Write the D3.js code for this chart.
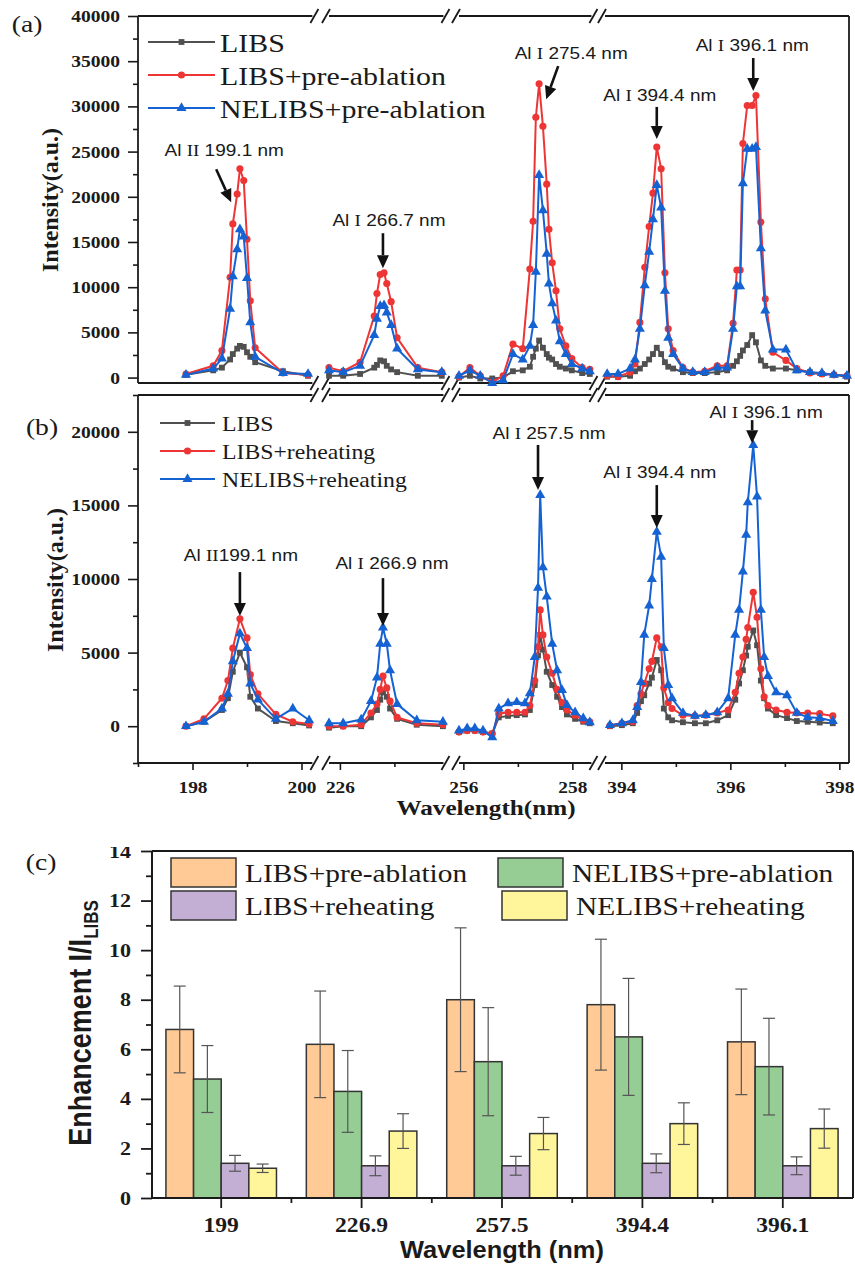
<!DOCTYPE html>
<html lang="en">
<head>
<meta charset="UTF-8">
<title>Al emission spectra and signal enhancement</title>
<script src="https://d3js.org/d3.v7.min.js"></script>
<style>
  body { margin: 0; background: #fff; }
  svg { display: block; }
</style>
</head>
<body>
<svg id="fig" width="855" height="1266"></svg>
<script>
// ---------- data ----------
// wavelength windows of the broken x axis (nm)
const segDomains = [[197.0, 200.2], [225.8, 227.9], [255.92, 258.35], [393.7, 398.17]];
const xMajor = [[198, 200], [226], [256, 258], [394, 396, 398]];
const xMinor = [[197, 199], [227], [257], [395, 397]];

// panel (a): pre-ablation
const a1Wl   = [197.88,198.38,198.54,198.69,198.74,198.82,198.87,198.94,199.0,199.06,199.15,199.66,200.12];
const a1Libs = [300,800,1100,2000,2600,3200,3500,3400,2800,2300,1700,700,200];
const a1Pre  = [400,1300,3000,11100,17000,20300,23100,21800,15300,8500,3300,500,300];
const a1Ne   = [300,1000,2100,7600,11200,14200,16400,15600,11000,6100,2300,500,400];

const a2Wl   = [225.8,226.06,226.37,226.63,226.68,226.74,226.81,226.86,226.94,227.05,227.43,227.87];
const a2Libs = [200,200,400,1100,1400,1900,1800,1300,900,600,200,200];
const a2Pre  = [1100,700,1700,6800,9300,11400,11600,10400,8400,4400,1100,600];
const a2Ne   = [800,600,1300,4700,6500,7900,8000,7200,5800,3200,900,600];

const a3Wl   = [255.92,256.12,256.31,256.53,256.73,256.91,257.09,257.22,257.28,257.33,257.39,257.46,257.53,257.57,257.63,257.7,257.77,257.88,257.99,258.18,258.32];
const a3Libs = [0,200,-100,-100,0,700,800,1200,2300,3200,4100,3300,2600,2200,2000,1500,1200,1000,800,500,400];
const a3Pre  = [100,1100,200,-500,200,3700,3200,12000,17300,28800,32500,27800,21400,16400,12700,9600,5400,3500,2100,1100,900];
const a3Ne   = [200,800,200,-600,-300,2600,2000,3500,5800,11700,22400,18500,13700,10400,8200,6300,4000,2600,1500,1000,700];

const a4Wl   = [393.74,393.94,394.16,394.25,394.34,394.43,394.51,394.58,394.65,394.73,394.80,394.86,394.95,395.13,395.31,395.53,395.76,395.94,396.05,396.12,396.18,396.23,396.31,396.40,396.47,396.56,396.64,396.78,397.02,397.22,397.46,397.68,397.90,398.14];
const a4Libs = [100,100,200,700,1000,1500,2000,2600,3300,2600,1700,1200,1000,600,500,500,600,800,1300,1800,2400,3000,3600,4700,3900,1900,1300,1000,1000,800,600,400,300,100];
const a4Pre  = [200,100,600,1500,6100,12200,16700,20400,25500,23100,11600,5400,3000,1100,600,700,1300,1300,6000,11900,11900,25900,30100,30100,31200,17200,8700,2800,1900,1000,500,400,300,200];
const a4Ne   = [400,400,1000,2000,5400,10200,13900,17500,21300,18800,9600,4400,2600,1000,600,600,1100,1100,5400,10100,10100,21500,25300,25300,25500,14300,7400,3100,3100,800,600,500,300,200];

// panel (b): reheating
const b1Wl   = [197.88,198.21,198.54,198.65,198.74,198.87,199.0,199.06,199.2,199.53,199.84,200.14];
const b1Libs = [0,300,1100,1900,3700,5000,4000,2000,1200,350,200,50];
const b1Re   = [0,500,1900,3100,5300,7300,6000,3500,2200,800,300,150];
const b1Ne   = [0,300,1200,2200,4400,6300,5300,2900,1800,500,1200,400];

const b2Wl   = [225.8,226.06,226.39,226.57,226.68,226.74,226.79,226.86,226.92,227.05,227.41,227.89];
const b2Libs = [-100,0,0,600,1100,1800,2300,2000,1200,500,100,0];
const b2Re   = [0,0,100,900,1500,2500,3400,2600,1700,600,200,100];
const b2Ne   = [200,200,450,1700,3300,5600,6700,5600,3800,1500,400,300];

const b3Wl   = [255.92,256.07,256.21,256.36,256.53,256.65,256.82,256.98,257.13,257.22,257.31,257.37,257.41,257.46,257.53,257.63,257.72,257.81,257.9,258.05,258.2,258.32];
const b3Libs = [-400,-300,-300,-400,-500,600,700,750,800,1100,2800,4800,6200,5200,3700,2800,2000,1300,800,500,300,200];
const b3Re   = [-400,-300,-300,-400,-500,850,950,950,950,1400,3100,5400,7900,6200,4700,3600,2500,1600,1100,750,400,300];
const b3Ne   = [-300,-150,-150,-300,-750,1200,1560,1630,1560,2240,4700,9400,15700,10800,8800,5600,3800,2450,1430,950,540,270];

const b4Wl   = [393.79,394.01,394.21,394.29,394.36,394.42,394.51,394.56,394.65,394.73,394.78,394.86,394.93,395.13,395.35,395.55,395.76,395.96,396.09,396.16,396.23,396.29,396.32,396.42,396.49,396.56,396.62,396.69,396.84,397.04,397.22,397.42,397.64,397.88];
const b4Libs = [0,70,200,900,1700,2100,2900,3300,4500,3800,1200,600,400,270,200,200,400,750,1800,2900,3800,4800,5400,6500,5500,3100,1900,1200,750,550,350,300,250,200];
const b4Re   = [50,200,300,1400,2200,2900,3900,4400,6000,5400,2600,1600,1200,750,700,750,900,1100,2300,3600,4700,5900,6700,9100,7400,3900,2000,1400,1100,950,900,900,850,700];
const b4Ne   = [70,200,400,1300,3000,6200,8200,10000,13200,11500,5300,2800,1900,900,700,750,950,1900,6200,7900,10500,13000,15200,19100,15600,7900,4700,3400,2300,2100,900,600,550,350];

const aYTicks = [0,5000,10000,15000,20000,25000,30000,35000,40000];
const aYMinor = [2500,7500,12500,17500,22500,27500,32500,37500];
const bYTicks = [0,5000,10000,15000,20000];
const bYMinor = [-2500,2500,7500,12500,17500,22500];

// annotation anchors: label, wavelength and intensity of the arrow tip
const aNotes = [
  ["Al ", "II", " 199.1 nm", 198.71, 19400],
  ["Al ", "I", " 266.7 nm", 226.79, 12100],
  ["Al ", "I", " 275.4 nm", 257.52, 30800],
  ["Al ", "I", " 394.4 nm", 394.65, 26400],
  ["Al ", "I", " 396.1 nm", 396.42, 31700]
];
const bNotes = [
  ["Al ", "II", "199.1 nm", 198.87, 7480],
  ["Al ", "I", " 266.9 nm", 226.79, 6800],
  ["Al ", "I", " 257.5 nm", 257.37, 16050],
  ["Al ", "I", " 394.4 nm", 394.65, 13460],
  ["Al ", "I", " 396.1 nm", 396.40, 19230]
];

// panel (c): enhancement factors
const cCats = ["199", "226.9", "257.5", "394.4", "396.1"];
const cLibsPre   = [6.8, 6.2, 8.0, 7.8, 6.3];
const cLibsPreE  = [1.75, 2.15, 2.9, 2.64, 2.13];
const cNePre     = [4.8, 4.3, 5.5, 6.5, 5.3];
const cNePreE    = [1.35, 1.65, 2.18, 2.36, 1.95];
const cLibsRe    = [1.4, 1.3, 1.3, 1.4, 1.3];
const cLibsReE   = [0.32, 0.4, 0.38, 0.38, 0.36];
const cNeRe      = [1.2, 2.7, 2.6, 3.0, 2.8];
const cNeReE     = [0.17, 0.7, 0.65, 0.84, 0.79];
const cYTicks = [0,2,4,6,8,10,12,14];
const cYMinor = [1,3,5,7,9,11,13];

// ---------- drawing ----------
const SERIF = "'Liberation Serif','Times New Roman',serif";
const SANS = "'Liberation Sans',Arial,sans-serif";
const INK = "#1a1a1a";
const svg = d3.select("#fig");

function txt(g, x, y, s, o) {
  return g.append("text")
    .attr("transform", `translate(${x},${y}) scale(${o.sx || 1},1)` + (o.rot ? ` rotate(${o.rot})` : ""))
    .attr("text-anchor", o.anchor || "start")
    .attr("dominant-baseline", o.base || "central")
    .style("font-family", o.font || SERIF)
    .style("font-size", o.size + "px")
    .style("font-weight", o.weight || "normal")
    .attr("fill", INK)
    .text(s);
}

function arrow(g, x1, y1, x2, y2) {
  const L = Math.hypot(x2 - x1, y2 - y1), ux = (x2 - x1) / L, uy = (y2 - y1) / L;
  const hl = 13, hw = 6;
  const bx = x2 - ux * hl, by = y2 - uy * hl;
  g.append("line").attr("x1", x1).attr("y1", y1).attr("x2", bx).attr("y2", by)
    .attr("stroke", "#111").attr("stroke-width", 2.6);
  g.append("path")
    .attr("d", `M${x2},${y2}L${bx - uy * hw},${by + ux * hw}L${bx + uy * hw},${by - ux * hw}Z`)
    .attr("fill", "#111");
}

const SEG_PX0 = [138, 329, 459, 605];
const PX_PER_NM = 54.5;
const LEFT = 138, RIGHT = 849;
const segX = segDomains.map((d, i) =>
  d3.scaleLinear().domain(d).range([SEG_PX0[i], SEG_PX0[i] + (d[1] - d[0]) * PX_PER_NM]));

const styles = [
  { color: "#505050", sym: d3.symbolSquare, size: 34 },
  { color: "#ee3535", sym: d3.symbolCircle, size: 40 },
  { color: "#1562d3", sym: d3.symbolTriangle, size: 44 }
];

function frame(g, top, bottom) {
  g.append("line").attr("x1", LEFT).attr("x2", LEFT).attr("y1", top).attr("y2", bottom);
  g.append("line").attr("x1", RIGHT).attr("x2", RIGHT).attr("y1", top).attr("y2", bottom);
  segX.forEach((s, i) => {
    const r = s.range();
    const x0 = i === 0 ? LEFT : r[0];
    const x1 = i === segX.length - 1 ? RIGHT : r[1];
    [top, bottom].forEach(y => {
      g.append("line").attr("x1", x0).attr("x2", x1).attr("y1", y).attr("y2", y);
      if (i < segX.length - 1) g.append("line").attr("x1", x1 - 2).attr("x2", x1 + 6).attr("y1", y + 7).attr("y2", y - 7);
      if (i > 0) g.append("line").attr("x1", x0 - 7).attr("x2", x0 + 1).attr("y1", y + 7).attr("y2", y - 7);
    });
  });
  g.selectAll("line").attr("stroke", INK).attr("stroke-width", 1.8);
}

function yAxis(g, y, majors, minors) {
  const ax = g.append("g").attr("transform", `translate(${LEFT},0)`)
    .call(d3.axisLeft(y).tickValues(majors).tickSize(10).tickPadding(8).tickFormat(d3.format("d")));
  ax.select(".domain").remove();
  ax.selectAll("line").attr("stroke", INK).attr("stroke-width", 1.6);
  ax.selectAll("text").attr("x", -18 / 1.15).attr("transform", "scale(1.15,1)")
    .style("font-family", SERIF).style("font-size", "17px").style("font-weight", "bold").attr("fill", INK);
  const mn = g.append("g").attr("transform", `translate(${LEFT},0)`)
    .call(d3.axisLeft(y).tickValues(minors).tickSize(5).tickFormat(""));
  mn.select(".domain").remove();
  mn.selectAll("line").attr("stroke", INK).attr("stroke-width", 1.6);
}

function spectra(g, y, segs) {
  segs.forEach((seg, i) => {
    const x = segX[i];
    seg.series.forEach((vals, k) => {
      const pts = seg.wl.map((w, j) => [x(w), y(vals[j])]);
      g.append("path").attr("d", d3.line()(pts)).attr("fill", "none")
        .attr("stroke", styles[k].color).attr("stroke-width", 2);
      g.selectAll(null).data(pts).enter().append("path")
        .attr("transform", p => `translate(${p[0]},${p[1]})`)
        .attr("d", d3.symbol(styles[k].sym, styles[k].size))
        .attr("fill", styles[k].color);
    });
  });
}

function legend(g, x0, x1, tx, rows, names, size, sx) {
  names.forEach((n, k) => {
    const yy = rows[k];
    g.append("line").attr("x1", x0).attr("x2", x1).attr("y1", yy).attr("y2", yy)
      .attr("stroke", styles[k].color).attr("stroke-width", 2);
    g.append("path").attr("transform", `translate(${(x0 + x1) / 2},${yy})`)
      .attr("d", d3.symbol(styles[k].sym, styles[k].size)).attr("fill", styles[k].color);
    txt(g, tx, yy + 1, n, { size: size, sx: sx });
  });
}

function notes(g, y, list, offs) {
  list.forEach((n, i) => {
    const si = segDomains.findIndex(d => n[3] >= d[0] && n[3] <= d[1]);
    const tx = segX[si](n[3]), ty = y(n[4]);
    const o = offs[i];
    arrow(g, tx + o[0], ty + o[1], tx, ty);
    const t = g.append("text")
      .attr("transform", `translate(${tx + o[2]},${ty + o[3]}) scale(1.12,1)`)
      .attr("text-anchor", "middle").attr("dominant-baseline", "central")
      .style("font-size", "17px").attr("fill", INK);
    t.append("tspan").style("font-family", SANS).text(n[0]);
    t.append("tspan").style("font-family", SERIF).text(n[1]);
    t.append("tspan").style("font-family", SANS).text(n[2]);
  });
}

// ----- panel (a)
const gA = svg.append("g");
const yA = d3.scaleLinear().domain([-600, 40000]).range([383, 16]);
frame(gA, 16, 383);
yAxis(gA, yA, aYTicks, aYMinor);
spectra(gA, yA, [
  { wl: a1Wl, series: [a1Libs, a1Pre, a1Ne] },
  { wl: a2Wl, series: [a2Libs, a2Pre, a2Ne] },
  { wl: a3Wl, series: [a3Libs, a3Pre, a3Ne] },
  { wl: a4Wl, series: [a4Libs, a4Pre, a4Ne] }
]);
legend(gA, 148, 215, 220, [42, 75, 108], ["LIBS", "LIBS+pre-ablation", "NELIBS+pre-ablation"], 26, 1.15);
notes(gA, yA, aNotes, [[-15, -33, -7, -52], [0, -35, 6, -48], [12, -33, 25, -46], [0, -32, 3, -44], [0, -33, -1, -46]]);
txt(gA, 50, 200, "Intensity(a.u.)", { size: 24, weight: "bold", anchor: "middle", rot: -90, sx: 1.0 });
txt(gA, 27, 24, "(a)", { size: 24, anchor: "middle", sx: 1.15 });

// ----- panel (b)
const gB = svg.append("g");
const yB = d3.scaleLinear().domain([-2500, 22500]).range([763, 395]);
frame(gB, 395, 763);
yAxis(gB, yB, bYTicks, bYMinor);
segX.forEach((s, i) => {
  const ax = gB.append("g").attr("transform", "translate(0,763)")
    .call(d3.axisBottom(s).tickValues(xMajor[i]).tickSize(7).tickPadding(11).tickFormat(d3.format("d")));
  ax.select(".domain").remove();
  ax.selectAll("line").attr("stroke", INK).attr("stroke-width", 1.6);
  ax.selectAll("text").attr("transform", "scale(1.14,1)")
    .style("font-family", SERIF).style("font-size", "17px").style("font-weight", "bold").attr("fill", INK);
  const mn = gB.append("g").attr("transform", "translate(0,763)")
    .call(d3.axisBottom(s).tickValues(xMinor[i]).tickSize(4).tickFormat(""));
  mn.select(".domain").remove();
  mn.selectAll("line").attr("stroke", INK).attr("stroke-width", 1.6);
});
spectra(gB, yB, [
  { wl: b1Wl, series: [b1Libs, b1Re, b1Ne] },
  { wl: b2Wl, series: [b2Libs, b2Re, b2Ne] },
  { wl: b3Wl, series: [b3Libs, b3Re, b3Ne] },
  { wl: b4Wl, series: [b4Libs, b4Re, b4Ne] }
]);
legend(gB, 160, 215, 222, [423, 451, 479], ["LIBS", "LIBS+reheating", "NELIBS+reheating"], 22, 1.08);
notes(gB, yB, bNotes, [[0, -44, 1, -61], [0, -48, 9, -63], [0, -45, 11, -57], [0, -43, 3, -56], [0, -23, 14, -31]]);
txt(gB, 55, 580, "Intensity(a.u.)", { size: 24, weight: "bold", anchor: "middle", rot: -90, sx: 1.0 });
txt(gB, 42, 427, "(b)", { size: 24, anchor: "middle", sx: 1.15 });
txt(gB, 486, 808, "Wavelength(nm)", { size: 21, weight: "bold", anchor: "middle", sx: 1.2 });

// ----- panel (c)
const gC = svg.append("g");
const C_L = 152, C_R = 853, C_T = 851, C_B = 1198;
const xC = d3.scaleBand().domain(cCats).range([151, C_R]);
const cSeries = [
  { name: "LIBS+pre-ablation", vals: cLibsPre, err: cLibsPreE, fill: "#ffca96" },
  { name: "NELIBS+pre-ablation", vals: cNePre, err: cNePreE, fill: "#95cd95" },
  { name: "LIBS+reheating", vals: cLibsRe, err: cLibsReE, fill: "#c3afd4" },
  { name: "NELIBS+reheating", vals: cNeRe, err: cNeReE, fill: "#fff59b" }
];
const xSub = d3.scaleBand().domain(cSeries.map(s => s.name)).range([0, xC.bandwidth()]).paddingOuter(0.54);
const yC = d3.scaleLinear().domain([0, 14]).range([C_B, C_T]);

cSeries.forEach(s => {
  gC.selectAll(null).data(cCats).enter().append("rect")
    .attr("x", (c) => xC(c) + xSub(s.name))
    .attr("y", (c, i) => yC(s.vals[i]))
    .attr("width", xSub.bandwidth())
    .attr("height", (c, i) => yC(0) - yC(s.vals[i]))
    .attr("fill", s.fill).attr("stroke", "#333").attr("stroke-width", 1.5);
});
cSeries.forEach(s => {
  cCats.forEach((c, i) => {
    const cx = xC(c) + xSub(s.name) + xSub.bandwidth() / 2;
    const hi = yC(s.vals[i] + s.err[i]), lo = yC(s.vals[i] - s.err[i]);
    gC.append("line").attr("x1", cx).attr("x2", cx).attr("y1", hi).attr("y2", lo);
    gC.append("line").attr("x1", cx - 6).attr("x2", cx + 6).attr("y1", hi).attr("y2", hi);
    gC.append("line").attr("x1", cx - 6).attr("x2", cx + 6).attr("y1", lo).attr("y2", lo);
  });
});
gC.selectAll("line").attr("stroke", "#555").attr("stroke-width", 1.2);

// frame and axes (c)
[[C_L, C_T, C_R, C_T], [C_R, C_T, C_R, C_B], [C_L, C_T, C_L, C_B], [C_L, C_B, C_R, C_B]].forEach(l => {
  gC.append("line").attr("x1", l[0]).attr("y1", l[1]).attr("x2", l[2]).attr("y2", l[3])
    .attr("stroke", INK).attr("stroke-width", 2);
});
// the top tick label is cut by the edge of the sub-figure in the original
svg.append("defs").append("clipPath").attr("id", "clipC").attr("clipPathUnits", "userSpaceOnUse")
  .append("rect").attr("x", -300).attr("y", 847).attr("width", 1200).attr("height", 420);
const cy = gC.append("g").attr("transform", `translate(${C_L},0)`).attr("clip-path", "url(#clipC)")
  .call(d3.axisLeft(yC).tickValues(cYTicks).tickSize(11).tickPadding(10));
cy.select(".domain").remove();
cy.selectAll("line").attr("stroke", INK).attr("stroke-width", 1.8);
cy.selectAll("text").attr("x", -21 / 1.16).attr("transform", "scale(1.16,1)")
  .style("font-family", SERIF).style("font-size", "19px").style("font-weight", "bold").attr("fill", INK);
const cym = gC.append("g").attr("transform", `translate(${C_L},0)`)
  .call(d3.axisLeft(yC).tickValues(cYMinor).tickSize(6).tickFormat(""));
cym.select(".domain").remove();
cym.selectAll("line").attr("stroke", INK).attr("stroke-width", 1.8);

const cx = gC.append("g").attr("transform", `translate(0,${C_B})`)
  .call(d3.axisBottom(xC).tickSize(10).tickPadding(10));
cx.select(".domain").remove();
cx.selectAll("line").attr("stroke", INK).attr("stroke-width", 1.8);
cx.selectAll("text").attr("transform", "scale(1.18,1)")
  .style("font-family", SERIF).style("font-size", "20px").style("font-weight", "bold").attr("fill", INK);
cCats.slice(1).forEach(c => {
  gC.append("line").attr("x1", xC(c)).attr("x2", xC(c)).attr("y1", C_B).attr("y2", C_B + 5)
    .attr("stroke", INK).attr("stroke-width", 1.8);
});

// legend (c)
const legBoxes = [[171, 858, 245], [498, 858, 572], [171, 891, 245], [502, 891, 576]];
cSeries.forEach((s, k) => {
  const b = legBoxes[k];
  gC.append("rect").attr("x", b[0]).attr("y", b[1]).attr("width", 65).attr("height", 29)
    .attr("fill", s.fill).attr("stroke", "#333").attr("stroke-width", 1.5);
  txt(gC, b[2], b[1] + 24, s.name, { size: 26, sx: 1.13, base: "alphabetic" });
});

const yl = gC.append("text")
  .attr("transform", "translate(91,1023) scale(1.15,1) rotate(-90)")
  .attr("text-anchor", "middle")
  .style("font-family", SANS).style("font-weight", "bold").style("font-size", "27px").attr("fill", INK);
yl.append("tspan").text("Enhancement I/I");
yl.append("tspan").attr("dy", 6).style("font-size", "17px").text("LIBS");
txt(gC, 502, 1250, "Wavelength (nm)", { size: 24, weight: "bold", font: SANS, anchor: "middle", sx: 1.06 });
txt(gC, 41, 862, "(c)", { size: 24, anchor: "middle", sx: 1.15 });
</script>
</body>
</html>
